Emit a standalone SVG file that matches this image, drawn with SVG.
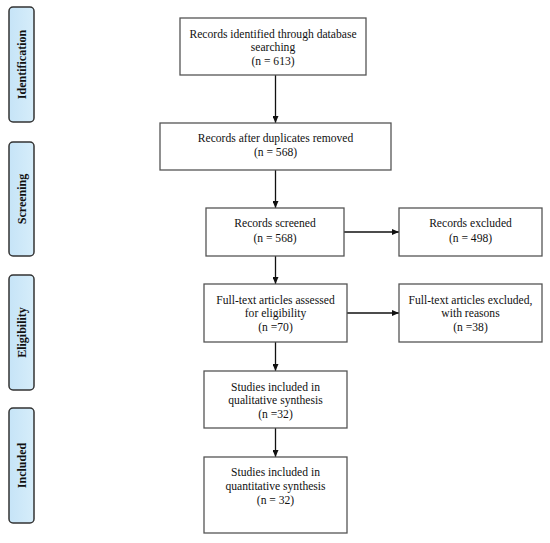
<svg xmlns="http://www.w3.org/2000/svg" width="550" height="543" viewBox="0 0 550 543">
<style>
.box{fill:#fff;stroke:#555;stroke-width:1.3}
.side{fill:url(#sg);stroke:#333;stroke-width:1.5}
.t{font-family:"Liberation Serif","Times New Roman",serif;font-size:11.6px;fill:#111;text-anchor:middle}
.s{font-family:"Liberation Serif","Times New Roman",serif;font-size:12px;font-weight:bold;fill:#111;text-anchor:middle}
.c{stroke:#111;stroke-width:1.3;fill:none;marker-end:url(#ah)}
</style>
<defs>
<linearGradient id="sg" x1="0" y1="0" x2="1" y2="0">
<stop offset="0" stop-color="#c6e4f7"/>
<stop offset="1" stop-color="#d6edfa"/>
</linearGradient>
<marker id="ah" markerWidth="7" markerHeight="6" refX="7" refY="3" orient="auto" markerUnits="userSpaceOnUse">
<path d="M0,0 L7,3 L0,6 Z" fill="#111"/>
</marker>
</defs>
<rect width="550" height="543" fill="#fff"/>
<g id="side-identification"><rect class="side" x="9" y="7" width="25" height="115" rx="4"/><text class="s" transform="translate(25.5,64.5) rotate(-90)">Identification</text></g>
<g id="side-screening"><rect class="side" x="9" y="142" width="25" height="114" rx="4"/><text class="s" transform="translate(25.5,199) rotate(-90)">Screening</text></g>
<g id="side-eligibility"><rect class="side" x="9" y="275" width="25" height="115" rx="4"/><text class="s" transform="translate(25.5,332.5) rotate(-90)">Eligibility</text></g>
<g id="side-included"><rect class="side" x="9" y="408" width="25" height="115" rx="4"/><text class="s" transform="translate(25.5,465.5) rotate(-90)">Included</text></g>
<g id="connectors">
<path class="c" d="M275.5,75 V123"/>
<path class="c" d="M275.5,170 V208"/>
<path class="c" d="M344,232 H399"/>
<path class="c" d="M275.5,256 V284"/>
<path class="c" d="M347,313 H399"/>
<path class="c" d="M275.5,342 V371"/>
<path class="c" d="M275.5,428 V457"/>
</g>
<g id="n1"><rect class="box" x="180" y="18" width="186" height="57"/><text class="t" x="273" y="38">Records identified through database</text><text class="t" x="273" y="51">searching</text><text class="t" x="273" y="64.5">(n = 613)</text></g>
<g id="n2"><rect class="box" x="160" y="123" width="231" height="47"/><text class="t" x="275.5" y="142">Records after duplicates removed</text><text class="t" x="275.5" y="156">(n = 568)</text></g>
<g id="n3"><rect class="box" x="206" y="208" width="138" height="48"/><text class="t" x="275" y="227">Records screened</text><text class="t" x="275" y="242">(n = 568)</text></g>
<g id="n3x"><rect class="box" x="399" y="208" width="143" height="48"/><text class="t" x="470.5" y="227">Records excluded</text><text class="t" x="470.5" y="242">(n = 498)</text></g>
<g id="n4"><rect class="box" x="204" y="284" width="143" height="58"/><text class="t" x="275.5" y="304">Full-text articles assessed</text><text class="t" x="275.5" y="317">for eligibility</text><text class="t" x="275.5" y="331">(n =70)</text></g>
<g id="n4x"><rect class="box" x="399" y="284" width="143" height="58"/><text class="t" x="470.5" y="304">Full-text articles excluded,</text><text class="t" x="470.5" y="317">with reasons</text><text class="t" x="470.5" y="331">(n =38)</text></g>
<g id="n5"><rect class="box" x="204" y="371" width="143" height="57"/><text class="t" x="275.5" y="391">Studies included in</text><text class="t" x="275.5" y="404">qualitative synthesis</text><text class="t" x="275.5" y="418">(n =32)</text></g>
<g id="n6"><rect class="box" x="204" y="457" width="143" height="76"/><text class="t" x="275.5" y="476">Studies included in</text><text class="t" x="275.5" y="490">quantitative synthesis</text><text class="t" x="275.5" y="504">(n = 32)</text></g>
</svg>
